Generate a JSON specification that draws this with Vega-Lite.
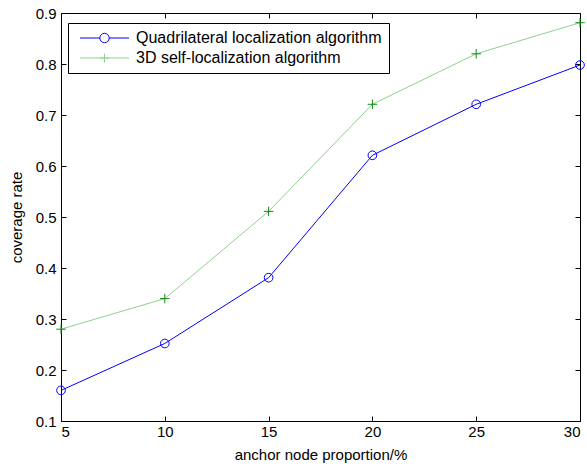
{
  "$schema": "https://vega.github.io/schema/vega-lite/v6.json",
  "width": 519,
  "height": 408,
  "autosize": {"type": "none"},
  "padding": {"left": 61, "top": 13, "right": 7, "bottom": 45},
  "background": "white",
  "config": {
    "font": "Liberation Sans",
    "view": {"stroke": "black", "strokeWidth": 1},
    "axis": {
      "grid": false,
      "domain": false,
      "ticks": true,
      "tickColor": "black",
      "tickWidth": 1,
      "tickSize": -5,
      "labelColor": "black",
      "labelFontSize": 15,
      "titleFontSize": 15,
      "titleFontWeight": "normal",
      "titleColor": "black",
      "labelFont": "Liberation Sans",
      "titleFont": "Liberation Sans"
    }
  },
  "data": {
    "values": [
      {"p": 5, "rate": 0.16, "series": "Quadrilateral localization algorithm"},
      {"p": 10, "rate": 0.252, "series": "Quadrilateral localization algorithm"},
      {"p": 15, "rate": 0.381, "series": "Quadrilateral localization algorithm"},
      {"p": 20, "rate": 0.621, "series": "Quadrilateral localization algorithm"},
      {"p": 25, "rate": 0.721, "series": "Quadrilateral localization algorithm"},
      {"p": 30, "rate": 0.798, "series": "Quadrilateral localization algorithm"},
      {"p": 5, "rate": 0.28, "series": "3D self-localization algorithm"},
      {"p": 10, "rate": 0.34, "series": "3D self-localization algorithm"},
      {"p": 15, "rate": 0.511, "series": "3D self-localization algorithm"},
      {"p": 20, "rate": 0.721, "series": "3D self-localization algorithm"},
      {"p": 25, "rate": 0.82, "series": "3D self-localization algorithm"},
      {"p": 30, "rate": 0.881, "series": "3D self-localization algorithm"}
    ]
  },
  "layer": [
    {
      "mark": {"type": "line", "strokeWidth": 1},
      "encoding": {
        "x": {"field": "p", "type": "quantitative",
              "scale": {"domain": [5, 30], "nice": false, "zero": false},
              "axis": {"values": [5, 10, 15, 20, 25, 30], "title": "anchor node proportion/%", "labelPadding": 8, "titlePadding": 8}},
        "y": {"field": "rate", "type": "quantitative",
              "scale": {"domain": [0.1, 0.9], "nice": false, "zero": false},
              "axis": {"values": [0.1, 0.2, 0.3, 0.4, 0.5, 0.6, 0.7, 0.8, 0.9], "format": ".1f", "title": "coverage rate", "labelPadding": 10, "titlePadding": 11}},
        "color": {"field": "series", "type": "nominal",
                  "scale": {"domain": ["Quadrilateral localization algorithm", "3D self-localization algorithm"], "range": ["#0000ff", "#8fd08f"]},
                  "legend": {
                    "title": null,
                    "orient": "none",
                    "legendX": 7,
                    "legendY": 10,
                    "strokeColor": "black",
                    "fillColor": "white",
                    "padding": 7,
                    "cornerRadius": 0,
                    "symbolSize": 100,
                    "symbolStrokeWidth": 1,
                    "labelFontSize": 16,
                    "labelColor": "black",
                    "labelFont": "Liberation Sans",
                    "labelOffset": 45,
                    "labelLimit": 400,
                    "rowPadding": 4,
                    "encode": {
                      "symbols": {
                        "update": {
                          "shape": {"signal": "datum.value === '3D self-localization algorithm' ? 'M-0.6,0H9.2M4.3,-0.9V0.9M3.4,0H5.2' : 'M-0.6,0H3.36M5.24,0H9.2M5.24,0A0.94,0.94 0 1,1 3.36,0A0.94,0.94 0 1,1 5.24,0'"},
                          "fill": {"value": "transparent"}
                        }
                      }
                    }
                  }}
      }
    },
    {
      "mark": {"type": "point", "filled": false, "strokeWidth": 1, "opacity": 1},
      "encoding": {
        "x": {"field": "p", "type": "quantitative",
              "axis": {"orient": "top", "values": [5, 10, 15, 20, 25, 30], "labels": false, "title": null}},
        "y": {"field": "rate", "type": "quantitative",
              "axis": {"orient": "right", "values": [0.1, 0.2, 0.3, 0.4, 0.5, 0.6, 0.7, 0.8, 0.9], "labels": false, "title": null}},
        "shape": {"field": "series", "type": "nominal",
                  "scale": {"domain": ["Quadrilateral localization algorithm", "3D self-localization algorithm"], "range": ["circle", "M-1,0H1M0,-1V1"]},
                  "legend": null},
        "size": {"field": "series", "type": "nominal",
                 "scale": {"domain": ["Quadrilateral localization algorithm", "3D self-localization algorithm"], "range": [75, 90]},
                 "legend": null},
        "color": {"field": "series", "type": "nominal",
                  "scale": {"domain": ["Quadrilateral localization algorithm", "3D self-localization algorithm"], "range": ["#0000ff", "#138a13"]},
                  "legend": null}
      }
    }
  ],
  "resolve": {
    "scale": {"color": "independent"},
    "axis": {"x": "independent", "y": "independent"}
  }
}
